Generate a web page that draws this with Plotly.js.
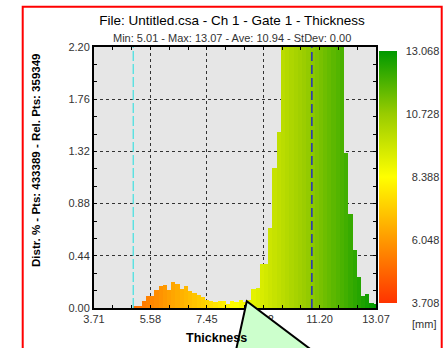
<!DOCTYPE html>
<html>
<head>
<meta charset="utf-8">
<script src="https://cdn.plot.ly/plotly-3.0.1.min.js"></script>
<style>
  html, body { margin: 0; padding: 0; background: #ffffff; }
  #chart { width: 444px; height: 348px; }
</style>
</head>
<body>
<div id="chart"></div>
<script>
// Thickness histogram: bin centres (mm) and distribution per bin (%)
const binCenters = [
  5.08, 5.22, 5.36, 5.50, 5.64, 5.78, 5.92, 6.06, 6.20, 6.34,
  6.48, 6.62, 6.76, 6.90, 7.04, 7.18, 7.32, 7.46, 7.60, 7.74,
  7.88, 8.02, 8.16, 8.30, 8.44, 8.58, 8.72, 8.86, 9.00, 9.14,
  9.28, 9.42, 9.56, 9.70, 9.84, 9.98, 10.12, 10.26, 10.40, 10.54,
  10.68, 10.82, 10.96, 11.10, 11.24, 11.38, 11.52, 11.66, 11.80, 11.94,
  12.08, 12.22, 12.36, 12.50, 12.64, 12.78, 12.92, 13.06
];
const distrPct = [
  0.017, 0.02, 0.057, 0.10, 0.10, 0.155, 0.186, 0.198, 0.15, 0.215,
  0.206, 0.164, 0.183, 0.145, 0.125, 0.107, 0.093, 0.07, 0.06, 0.05,
  0.06, 0.06, 0.037, 0.056, 0.05, 0.065, 0.05, 0.07, 0.163, 0.165,
  0.37, 0.37, 0.675, 1.18, 1.48, 2.6, 3.8, 5.0, 6.2, 7.2,
  7.9, 8.3, 8.4, 8.2, 7.7, 6.9, 5.9, 4.8, 3.6, 2.5,
  1.31, 0.79, 0.49, 0.26, 0.10, 0.115, 0.04, 0.03
];
const binWidth = 0.14;

// Summary statistics
const statMin = 5.01;
const statMax = 13.07;
const statAve = 10.94;
const statStDev = 0.00;
const ptsTotal = 433389;
const ptsRel = 359349;

// Axis / colour scale ticks
const xTickVals = [3.708, 5.580, 7.452, 9.324, 11.196, 13.068];
const yTickVals = [0, 0.44, 0.88, 1.32, 1.76, 2.20];
const cbTickVals = [3.708, 6.048, 8.388, 10.728, 13.068];
const fileName = 'Untitled.csa';

const FONT = 'Liberation Sans, Arial, sans-serif';

const colorscale = [
  [0.00, '#ff3300'],
  [0.25, '#ff9900'],
  [0.50, '#ffff00'],
  [0.75, '#99cc00'],
  [1.00, '#009900']
];

const cbText = cbTickVals.map(v => v.toFixed(3).padStart(6, '\u2007'));

const trace = {
  type: 'bar',
  x: binCenters,
  y: distrPct,
  width: binWidth,
  hoverinfo: 'skip',
  marker: {
    color: binCenters,
    colorscale: colorscale,
    cmin: cbTickVals[0],
    cmax: cbTickVals[cbTickVals.length - 1],
    line: { width: 0 },
    showscale: true,
    colorbar: {
      thickness: 18, thicknessmode: 'pixels',
      len: 252, lenmode: 'pixels',
      x: 1.0117, xanchor: 'left', xref: 'paper', xpad: 0,
      y: 0.5, yanchor: 'middle', ypad: 0,
      outlinewidth: 0,
      tickmode: 'array', tickvals: cbTickVals, ticktext: cbText,
      ticks: 'outside', ticklen: 7, tickcolor: 'rgba(0,0,0,0)',
      tickfont: { family: FONT, size: 11, color: '#333' }
    }
  }
};

const xRange = [xTickVals[0], xTickVals[xTickVals.length - 1]];
const yRange = [yTickVals[0], yTickVals[yTickVals.length - 1]];

const layout = {
  width: 444, height: 348,
  margin: { l: 94, r: 68, t: 47, b: 40, autoexpand: false },
  paper_bgcolor: '#ffffff',
  plot_bgcolor: '#e6e6e6',
  showlegend: false,
  bargap: 0,
  font: { family: FONT, size: 11, color: '#333' },
  title: {
    text: 'File: ' + fileName + ' - Ch 1 - Gate 1 - Thickness',
    font: { family: FONT, size: 13.5, color: '#000' },
    xref: 'container', x: 232 / 444, xanchor: 'center',
    yref: 'container', y: 1 - 20.7 / 348, yanchor: 'middle'
  },
  xaxis: {
    range: xRange,
    tickmode: 'array', tickvals: xTickVals,
    ticktext: xTickVals.map(v => v.toFixed(2)),
    ticks: 'inside', ticklen: 3, tickwidth: 1, tickcolor: '#000',
    tickfont: { family: FONT, size: 11, color: '#333' },
    showgrid: true, gridcolor: '#333', gridwidth: 1, griddash: '3px,3px',
    showline: true, linecolor: '#000', linewidth: 2, mirror: 'ticks',
    zeroline: false,
    minor: {
      tickmode: 'linear', tick0: xTickVals[0],
      dtick: (xTickVals[1] - xTickVals[0]) / 3,
      ticks: 'inside', ticklen: 3, tickwidth: 1, tickcolor: '#000',
      showgrid: false
    }
  },
  yaxis: {
    range: yRange,
    tickmode: 'array', tickvals: yTickVals,
    ticktext: yTickVals.map(v => v.toFixed(2)),
    ticks: 'inside', ticklen: 3, tickwidth: 1, tickcolor: '#000',
    tickfont: { family: FONT, size: 11, color: '#333' },
    showgrid: true, gridcolor: '#333', gridwidth: 1, griddash: '3px,3px',
    showline: true, linecolor: '#000', linewidth: 2, mirror: 'ticks',
    zeroline: false,
    minor: {
      tickmode: 'linear', tick0: 0,
      dtick: (yTickVals[1] - yTickVals[0]) / 3,
      ticks: 'inside', ticklen: 3, tickwidth: 1, tickcolor: '#000',
      showgrid: false
    }
  },
  annotations: [
    {
      text: 'Min: ' + statMin.toFixed(2) + ' - Max: ' + statMax.toFixed(2) +
            ' - Ave: ' + statAve.toFixed(2) + ' - StDev: ' + statStDev.toFixed(2),
      xref: 'paper', yref: 'paper', x: 0.4876, y: 1.0333,
      xanchor: 'center', yanchor: 'middle', showarrow: false,
      font: { family: FONT, size: 11, color: '#333' }
    },
    {
      text: 'Distr. % - Pts: ' + ptsTotal + ' - Rel. Pts: ' + ptsRel,
      xref: 'paper', yref: 'paper', x: -0.2057, y: 0.567,
      xanchor: 'center', yanchor: 'middle', textangle: -90, showarrow: false,
      font: { family: FONT, size: 11.5, color: '#000', weight: 'bold' }
    },
    {
      text: 'Thickness',
      xref: 'paper', yref: 'paper', x: 0.3191, y: -0.115,
      xanchor: 'left', yanchor: 'middle', showarrow: false,
      font: { family: FONT, size: 12.5, color: '#000', weight: 'bold' }
    },
    {
      text: '[mm]',
      xref: 'paper', yref: 'paper', x: 1.2199, y: -0.0625,
      xanchor: 'right', yanchor: 'middle', showarrow: false,
      font: { family: FONT, size: 11, color: '#333' }
    }
  ],
  shapes: [
    // page frame
    {
      type: 'rect', xref: 'paper', yref: 'paper',
      x0: -0.2528, x1: 1.233, y0: -0.4, y1: 1.1544,
      line: { color: '#ff0000', width: 2 }, fillcolor: 'rgba(0,0,0,0)', layer: 'below'
    },
    // minimum marker
    {
      type: 'line', xref: 'x', yref: 'paper', x0: statMin, x1: statMin, y0: 0, y1: 1,
      line: { color: '#40e0e0', width: 1.2, dash: '10px,3px' }, layer: 'above'
    },
    // average marker
    {
      type: 'line', xref: 'x', yref: 'paper', x0: statAve, x1: statAve, y0: 0, y1: 1,
      line: { color: '#0a0af0', width: 1.2, dash: '9px,4px' }, layer: 'above'
    },
    // callout pointer
    {
      type: 'path', xref: 'paper', yref: 'paper',
      path: 'M 0.5418,0.0257 L 0.5021,-0.1686 L 0.7809,-0.1686 Z',
      fillcolor: '#ccffcc',
      line: { color: '#000', width: 2 }, layer: 'above'
    }
  ]
};

const gd = document.getElementById('chart');
Plotly.newPlot(gd, [trace], layout, { staticPlot: true, displayModeBar: false }).then(() => {
  // keep the axis caption underneath the callout pointer
  const mainSvg = gd.querySelector('.main-svg');
  const above = mainSvg && mainSvg.querySelector('.layer-above');
  gd.querySelectorAll('.annotation').forEach(g => {
    if (g.textContent.trim() === 'Thickness' && above) mainSvg.insertBefore(g, above);
  });
});
</script>
</body>
</html>
